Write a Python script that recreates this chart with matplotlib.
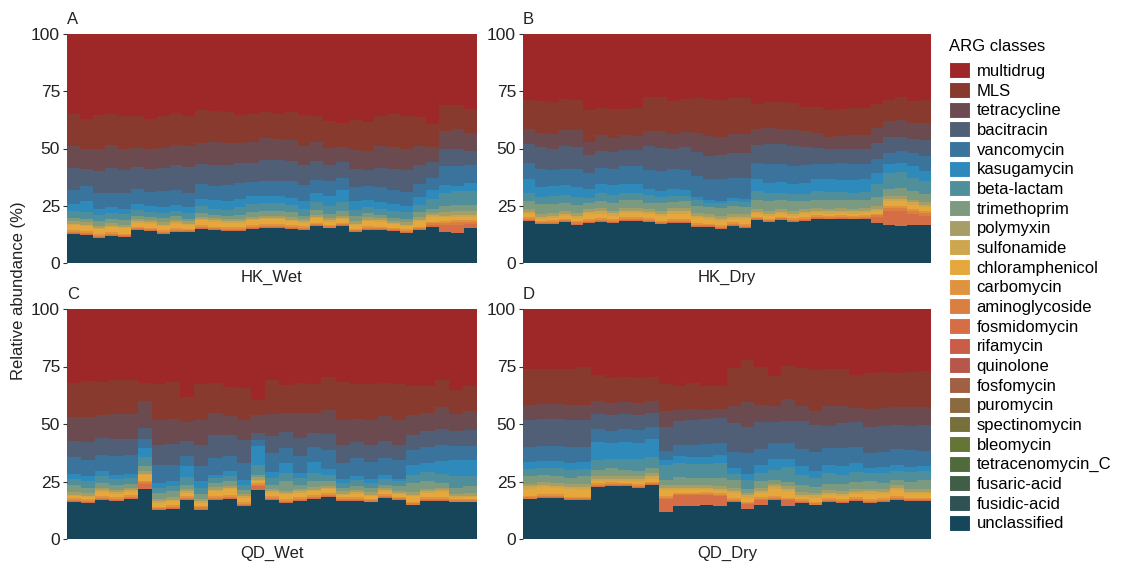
import numpy as np
import matplotlib
matplotlib.use("Agg")
from matplotlib import pyplot as plt
from matplotlib.patches import Patch

plt.rcParams['font.family'] = ['Liberation Sans', 'DejaVu Sans']

panels = ["HK_Wet", "HK_Dry", "QD_Wet", "QD_Dry"]
letters = ["A", "B", "C", "D"]

# legend order (top of stack first)
classes = ["multidrug", "MLS", "tetracycline", "bacitracin", "vancomycin", "kasugamycin",
           "beta-lactam", "trimethoprim", "polymyxin", "sulfonamide", "chloramphenicol",
           "carbomycin", "aminoglycoside", "fosmidomycin", "rifamycin", "quinolone",
           "fosfomycin", "puromycin", "spectinomycin", "bleomycin", "tetracenomycin_C",
           "fusaric-acid", "fusidic-acid", "unclassified"]
colors = ["#9e2727", "#873a2d", "#6b4b50", "#505f76", "#3a739b", "#2e8abb",
          "#4f8f9b", "#7b9a80", "#a59e66", "#cda64e", "#e6a83c",
          "#e0933f", "#da7f3f", "#d56e47", "#c95d48", "#b5574a",
          "#a06044", "#8c6a40", "#76703b", "#647535", "#506b3a",
          "#3f5e45", "#2f5252", "#17455a"]

# relative abundance (%) per sample, one list per panel: HK_Wet, HK_Dry, QD_Wet, QD_Dry
unclassified = [
    [12.8, 12.2, 10.9, 11.8, 11.2, 14.3, 13.8, 12.7, 13.5, 13.4, 14.8, 14.3, 14.0, 14.0, 15.0, 15.3,
     15.3, 14.8, 14.6, 16.0, 15.1, 16.0, 13.4, 14.6, 14.3, 13.8, 13.1, 14.3, 15.7, 13.4, 13.1, 15.1],
    [18.5, 16.9, 17.2, 17.8, 16.8, 17.5, 18.0, 17.5, 18.5, 18.5, 18.0, 16.9, 17.5, 17.5, 15.8, 15.6, 14.9,
     16.1, 15.3, 18.7, 17.8, 18.7, 18.0, 18.5, 19.4, 19.0, 19.4, 19.0, 19.4, 17.5, 16.6, 16.1, 16.6, 16.8],
    [16.2, 15.7, 17.1, 16.7, 17.4, 21.9, 12.5, 13.2, 17.1, 12.8, 17.1, 17.4, 14.5, 21.4, 17.1,
     15.7, 16.7, 17.4, 18.3, 16.7, 16.7, 15.9, 17.8, 16.8, 14.6, 16.7, 16.7, 15.9, 15.9],
    [17.2, 18.0, 17.8, 16.8, 16.8, 22.6, 23.1, 22.9, 22.3, 23.4, 11.7, 14.5, 14.5, 14.9, 14.2,
     16.1, 13.1, 14.9, 17.1, 14.3, 15.6, 14.6, 16.1, 15.8, 16.5, 15.8, 16.1, 17.1, 16.4, 16.4],
]
fosmidomycin = [
    [0.4, 0.4, 0.4, 0.4, 0.4, 0.4, 0.4, 0.4, 0.4, 0.4, 0.4, 0.4, 0.4, 0.4, 0.4, 0.4,
     0.4, 0.4, 0.4, 0.4, 0.4, 0.4, 0.4, 0.4, 0.4, 0.4, 0.4, 0.4, 1.0, 3.0, 3.5, 1.8],
    [0.4, 0.4, 0.4, 0.4, 0.4, 0.4, 0.4, 0.4, 0.4, 0.4, 0.4, 0.4, 0.4, 0.4, 0.4, 0.4, 0.4,
     0.4, 0.4, 0.4, 0.4, 0.4, 0.4, 0.4, 0.4, 0.4, 0.4, 0.4, 0.4, 2.5, 6.0, 6.5, 5.0, 3.8],
    [0.4, 0.4, 0.4, 0.4, 0.4, 2.2, 0.4, 0.4, 0.4, 0.4, 0.4, 0.4, 0.4, 1.7, 0.4,
     0.4, 0.4, 0.4, 0.4, 0.4, 0.4, 0.4, 0.4, 0.4, 0.4, 0.4, 0.4, 0.4, 0.4],
    [0.4, 0.4, 0.4, 0.4, 0.4, 0.4, 0.4, 0.4, 0.4, 0.4, 5.8, 4.5, 4.5, 4.2, 4.5,
     0.4, 2.0, 2.2, 0.4, 2.5, 0.4, 0.4, 0.4, 0.4, 0.4, 0.4, 0.4, 0.4, 0.4, 0.4],
]
aminoglycoside = [
    [0.5, 0.5, 0.5, 0.5, 0.5, 0.5, 0.5, 0.5, 0.5, 0.5, 0.5, 0.5, 0.5, 0.5, 0.5, 0.5,
     0.5, 0.5, 0.5, 0.5, 0.5, 0.5, 0.5, 0.5, 0.5, 0.5, 0.5, 0.5, 0.7, 1.0, 1.2, 0.9],
    [0.5, 0.5, 0.5, 0.5, 0.5, 0.5, 0.5, 0.5, 0.5, 0.5, 0.5, 0.5, 0.5, 0.5, 0.5, 0.5, 0.5,
     0.5, 0.5, 0.5, 0.5, 0.5, 0.5, 0.5, 0.5, 0.5, 0.5, 0.5, 0.5, 0.8, 1.5, 1.5, 1.3, 1.2],
    [0.5, 0.5, 0.5, 0.5, 0.5, 0.5, 0.5, 0.5, 0.5, 0.5, 0.5, 0.5, 0.5, 0.5, 0.5,
     0.5, 0.5, 0.5, 0.5, 0.5, 0.5, 0.5, 0.5, 0.5, 0.5, 0.5, 0.5, 0.5, 0.5],
    [0.5, 0.5, 0.5, 0.5, 0.5, 0.5, 0.5, 0.5, 0.5, 0.5, 0.5, 0.5, 0.5, 0.5, 0.5,
     0.5, 0.5, 0.5, 0.5, 0.5, 0.5, 0.5, 0.5, 0.5, 0.5, 0.5, 0.5, 0.5, 0.5, 0.5],
]
carbomycin = [
    [0.7, 0.7, 0.7, 0.7, 0.7, 0.7, 0.7, 0.7, 0.7, 0.7, 0.7, 0.7, 0.7, 0.7, 0.7, 0.7,
     0.7, 0.7, 0.7, 0.7, 0.7, 0.7, 0.7, 0.7, 0.7, 0.7, 0.7, 0.7, 0.7, 0.8, 0.8, 0.8],
    [0.7, 0.7, 0.7, 0.7, 0.7, 0.7, 0.7, 0.7, 0.7, 0.7, 0.7, 0.7, 0.7, 0.7, 0.7, 0.7, 0.7,
     0.7, 0.7, 0.7, 0.7, 0.7, 0.7, 0.7, 0.7, 0.7, 0.7, 0.7, 0.7, 0.7, 0.7, 0.7, 0.7, 0.7],
    [0.7, 0.7, 0.7, 0.7, 0.7, 0.7, 0.7, 0.7, 0.7, 0.7, 0.7, 0.7, 0.7, 0.7, 0.7,
     0.7, 0.7, 0.7, 0.7, 0.7, 0.7, 0.7, 0.7, 0.7, 0.7, 0.7, 0.7, 0.7, 0.7],
    [0.7, 0.7, 0.7, 0.7, 0.7, 0.7, 0.7, 0.7, 0.7, 0.7, 0.7, 0.7, 0.7, 0.7, 0.7,
     0.7, 0.7, 0.7, 0.7, 0.7, 0.7, 0.7, 0.7, 0.7, 0.7, 0.7, 0.7, 0.7, 0.7, 0.7],
]
chloramphenicol = [
    [2.2, 2.3, 2.2, 2.3, 2.3, 1.7, 1.8, 1.8, 2.1, 1.6, 2.2, 2.1, 2.0, 2.0, 2.0, 2.2,
     2.2, 1.9, 1.4, 1.9, 1.3, 1.5, 1.6, 2.1, 2.1, 1.5, 1.4, 2.4, 2.2, 1.7, 1.7, 1.7],
    [1.1, 0.8, 0.9, 1.0, 1.3, 2.1, 2.0, 1.6, 1.8, 1.8, 1.6, 1.9, 2.5, 2.5, 2.3, 1.8, 1.7,
     1.6, 2.1, 0.9, 1.0, 0.9, 0.8, 1.1, 0.9, 0.9, 0.9, 0.9, 0.9, 1.1, 2.2, 2.2, 1.9, 2.0],
    [0.9, 0.9, 1.9, 1.4, 1.6, 2.5, 1.7, 1.7, 1.4, 1.4, 2.1, 2.6, 1.9, 0.9, 1.4,
     2.1, 1.8, 1.8, 1.7, 0.8, 1.4, 1.2, 1.2, 1.0, 2.5, 1.8, 2.3, 0.5, 0.7],
    [3.1, 3.0, 2.8, 3.2, 3.1, 0.9, 0.6, 0.6, 1.2, 1.3, 2.5, 1.0, 1.0, 0.9, 1.0,
     2.3, 1.7, 1.7, 3.2, 2.9, 1.0, 1.8, 1.3, 1.1, 1.3, 2.3, 1.7, 2.5, 1.4, 1.4],
]
sulfonamide = [
    [0.6, 0.6, 0.6, 0.6, 0.6, 0.6, 0.6, 0.6, 0.6, 0.6, 0.6, 0.6, 0.6, 0.6, 0.6, 0.6,
     0.6, 0.6, 0.6, 0.6, 0.6, 0.6, 0.6, 0.6, 0.6, 0.6, 0.6, 0.6, 0.6, 0.8, 0.8, 0.8],
    [1.0, 1.0, 1.0, 1.0, 1.0, 1.0, 1.0, 1.0, 1.0, 1.0, 1.0, 1.0, 1.0, 1.0, 1.0, 1.0, 1.0,
     1.0, 1.0, 1.0, 1.0, 1.0, 1.0, 1.0, 1.0, 1.0, 1.0, 1.0, 1.0, 1.0, 1.0, 1.0, 1.0, 1.0],
    [0.6, 0.6, 0.6, 0.6, 0.6, 0.6, 0.6, 0.6, 0.6, 0.6, 0.6, 0.6, 0.6, 0.6, 0.6,
     0.6, 0.6, 0.6, 0.6, 0.6, 0.6, 0.6, 0.6, 0.6, 0.6, 0.6, 0.6, 0.6, 0.6],
    [1.0, 1.0, 1.0, 1.0, 1.0, 1.0, 1.0, 1.0, 1.0, 1.0, 1.0, 1.0, 1.0, 1.0, 1.0,
     1.0, 1.0, 1.0, 1.0, 1.0, 1.0, 1.0, 1.0, 1.0, 1.0, 1.0, 1.0, 1.0, 1.0, 1.0],
]
polymyxin = [
    [1.0, 1.0, 1.0, 1.0, 1.0, 1.0, 1.0, 1.0, 1.0, 1.0, 1.0, 1.0, 1.0, 1.0, 1.0, 1.0,
     1.0, 1.0, 1.0, 1.0, 1.0, 1.0, 1.0, 1.0, 1.0, 1.0, 1.0, 1.0, 1.0, 1.5, 1.5, 1.5],
    [1.2, 1.2, 1.2, 1.2, 1.2, 1.2, 1.2, 1.2, 1.2, 1.2, 1.2, 1.2, 1.2, 1.2, 1.2, 1.2, 1.2,
     1.2, 1.2, 1.2, 1.2, 1.2, 1.2, 1.2, 1.2, 1.2, 1.2, 1.2, 1.2, 1.2, 1.2, 1.2, 1.2, 1.2],
    [1.0, 1.0, 1.0, 1.0, 1.0, 1.0, 1.0, 1.0, 1.0, 1.0, 1.0, 1.0, 1.0, 1.0, 1.0,
     1.0, 1.0, 1.0, 1.0, 1.0, 1.0, 1.0, 1.0, 1.0, 1.0, 1.0, 1.0, 1.0, 1.0],
    [1.2, 1.2, 1.2, 1.2, 1.2, 1.2, 1.2, 1.2, 1.2, 1.2, 1.2, 1.2, 1.2, 1.2, 1.2,
     1.2, 1.2, 1.2, 1.2, 1.2, 1.2, 1.2, 1.2, 1.2, 1.2, 1.2, 1.2, 1.2, 1.2, 1.2],
]
trimethoprim = [
    [1.5, 1.5, 1.9, 2.1, 1.9, 1.5, 1.1, 2.0, 1.6, 1.2, 1.6, 1.5, 1.5, 1.9, 1.9, 1.9,
     2.2, 2.2, 1.2, 2.2, 1.9, 1.9, 2.2, 1.9, 1.5, 1.2, 1.5, 2.2, 1.9, 2.5, 2.9, 2.9],
    [3.6, 4.3, 3.9, 3.7, 3.6, 2.6, 3.2, 3.4, 3.3, 3.3, 2.9, 3.4, 2.8, 3.2, 2.9, 3.3, 3.7,
     3.3, 3.3, 4.3, 4.4, 4.0, 4.4, 3.6, 3.6, 3.7, 3.6, 3.6, 3.6, 4.0, 3.2, 3.6, 3.7, 3.5],
    [3.3, 2.4, 2.1, 2.3, 1.9, 2.2, 2.6, 2.6, 1.9, 2.3, 1.9, 1.9, 1.8, 1.2, 1.9,
     4.1, 1.9, 2.7, 1.9, 1.5, 1.6, 1.9, 1.4, 1.9, 4.0, 3.4, 2.1, 2.6, 3.1],
    [3.2, 2.9, 3.0, 2.9, 3.7, 2.9, 3.2, 2.9, 2.3, 2.2, 2.1, 3.6, 3.3, 3.3, 3.6,
     3.3, 1.7, 3.1, 1.7, 1.7, 3.0, 2.4, 2.9, 3.1, 3.2, 3.2, 2.8, 2.1, 3.2, 3.9],
]
beta_lactam = [
    [2.9, 2.9, 2.9, 2.4, 2.7, 2.3, 2.5, 2.1, 2.2, 2.4, 3.2, 2.5, 2.6, 3.4, 3.8, 3.6,
     3.3, 3.4, 3.2, 3.2, 3.5, 3.9, 2.9, 2.7, 2.5, 2.9, 2.9, 3.4, 4.3, 5.9, 5.8, 5.8],
    [3.7, 3.1, 3.4, 3.2, 3.3, 2.5, 3.7, 3.3, 3.3, 3.3, 3.2, 2.8, 2.6, 2.2, 2.6, 1.8, 1.9,
     2.2, 2.2, 3.7, 3.4, 3.3, 3.2, 3.2, 3.7, 3.5, 3.2, 3.4, 3.2, 5.5, 7.0, 6.9, 5.8, 5.6],
    [2.5, 2.9, 2.9, 2.5, 2.4, 4.1, 2.2, 2.2, 3.4, 2.5, 2.2, 2.4, 2.2, 4.3, 2.9,
     3.6, 2.9, 3.6, 2.8, 2.1, 2.9, 2.1, 2.5, 2.2, 3.6, 3.9, 4.1, 5.0, 4.6],
    [3.1, 3.2, 3.3, 3.2, 3.0, 4.1, 4.0, 4.4, 5.0, 4.8, 6.6, 6.1, 6.1, 6.1, 6.4,
     2.7, 3.6, 3.2, 4.4, 6.6, 4.3, 4.1, 4.4, 3.9, 4.4, 3.4, 4.1, 4.1, 4.4, 4.1],
]
kasugamycin = [
    [3.2, 4.8, 2.6, 2.7, 2.4, 2.9, 2.3, 2.7, 2.7, 2.7, 2.9, 4.1, 3.6, 3.4, 3.2, 2.9,
     2.9, 2.9, 3.3, 4.1, 4.1, 5.2, 3.6, 3.2, 2.9, 3.2, 2.6, 3.3, 3.8, 3.6, 2.5, 3.6],
    [6.1, 4.4, 4.4, 4.4, 4.3, 3.6, 3.6, 4.3, 4.0, 3.9, 2.6, 2.6, 2.9, 2.6, 1.4, 1.4, 1.0,
     1.5, 1.3, 5.1, 4.6, 4.6, 4.4, 4.8, 5.4, 5.6, 5.3, 5.5, 5.6, 5.1, 3.7, 4.1, 5.1, 4.3],
    [2.3, 2.1, 2.2, 1.9, 1.9, 3.9, 2.1, 2.2, 4.9, 2.9, 1.5, 1.9, 2.2, 8.0, 2.5,
     4.3, 2.2, 4.6, 2.5, 1.8, 1.7, 1.8, 1.9, 1.0, 4.4, 4.0, 5.4, 7.3, 6.7],
    [3.2, 3.1, 3.2, 3.2, 3.2, 8.0, 7.2, 7.7, 7.3, 7.9, 2.2, 3.0, 3.0, 3.0, 3.4,
     2.5, 2.7, 3.6, 4.8, 3.6, 4.0, 2.9, 3.6, 4.0, 3.9, 2.2, 2.6, 2.5, 2.2, 2.1],
]
vancomycin = [
    [6.2, 6.6, 6.7, 6.1, 6.9, 6.4, 6.3, 6.8, 6.7, 6.1, 6.7, 6.1, 7.3, 7.0, 6.1, 6.9,
     6.9, 7.3, 7.3, 5.8, 6.6, 5.4, 6.3, 6.1, 6.7, 5.9, 6.3, 5.8, 5.4, 8.0, 8.7, 8.0],
    [7.0, 7.6, 7.0, 7.3, 7.8, 7.0, 7.3, 7.3, 7.6, 7.7, 8.5, 8.7, 8.8, 8.8, 9.2, 9.1, 9.8,
     8.7, 9.2, 7.0, 8.1, 7.8, 7.7, 7.6, 6.3, 6.6, 7.3, 6.9, 6.6, 6.1, 5.1, 5.1, 5.6, 6.6],
    [7.1, 7.3, 7.3, 7.9, 8.0, 3.9, 8.0, 7.2, 4.3, 6.8, 7.2, 6.8, 7.2, 2.9, 8.4,
     6.6, 7.5, 6.7, 8.4, 6.9, 7.7, 7.2, 7.2, 8.1, 6.3, 7.0, 7.2, 6.1, 6.4],
    [6.5, 6.6, 6.7, 6.8, 6.3, 5.4, 5.1, 5.4, 5.5, 5.2, 4.1, 4.8, 5.1, 5.4, 5.1,
     7.3, 9.3, 6.9, 6.6, 6.9, 7.3, 8.4, 7.3, 7.7, 7.0, 6.5, 6.6, 6.9, 7.3, 6.7],
]
bacitracin = [
    [9.5, 7.5, 9.8, 10.9, 10.2, 9.6, 10.2, 10.2, 10.9, 11.3, 8.8, 9.1, 8.7, 8.8, 8.5, 9.1,
     8.8, 8.7, 8.4, 8.0, 7.2, 6.9, 7.8, 7.0, 8.1, 9.3, 9.5, 8.0, 6.9, 7.7, 7.5, 5.9],
    [8.2, 9.6, 9.3, 9.7, 9.9, 7.9, 7.5, 7.3, 6.9, 6.9, 10.5, 10.3, 9.0, 10.1, 10.5, 9.9, 10.2,
     10.7, 11.0, 8.0, 8.7, 8.7, 8.8, 8.1, 7.3, 6.5, 6.1, 6.8, 6.8, 7.1, 6.8, 6.3, 6.1, 7.0],
    [7.0, 7.7, 7.2, 7.6, 7.1, 4.8, 8.7, 9.1, 6.3, 9.1, 10.2, 9.2, 9.9, 2.9, 7.2,
     6.8, 7.7, 6.1, 7.0, 8.0, 6.8, 7.7, 7.3, 6.8, 6.8, 6.8, 6.8, 6.2, 6.6],
    [11.7, 11.5, 11.5, 11.9, 11.9, 6.8, 6.9, 6.8, 6.7, 6.4, 10.2, 10.5, 10.9, 10.9, 11.0,
     12.4, 11.4, 11.8, 9.2, 9.3, 12.2, 11.6, 9.8, 11.0, 10.7, 11.7, 11.6, 10.6, 10.5, 11.2],
]
tetracycline = [
    [9.8, 8.6, 9.7, 10.2, 9.1, 8.5, 8.8, 8.8, 8.7, 9.0, 9.1, 9.9, 9.3, 8.8, 9.3, 9.5,
     9.4, 9.5, 8.7, 8.6, 7.5, 6.7, 8.3, 7.9, 9.7, 9.7, 9.4, 8.7, 6.7, 7.8, 8.6, 8.0],
    [6.4, 6.4, 6.3, 7.1, 7.2, 5.8, 6.8, 6.2, 6.6, 6.3, 6.7, 7.4, 6.6, 6.5, 8.4, 8.8, 8.2,
     8.3, 8.0, 6.9, 7.2, 6.9, 6.9, 6.8, 6.2, 5.6, 5.9, 6.2, 5.9, 6.5, 6.9, 7.1, 7.0, 7.6],
    [10.4, 10.7, 9.9, 10.7, 10.7, 11.8, 10.9, 10.9, 8.2, 10.9, 9.4, 8.2, 9.0, 7.7, 9.9,
     8.4, 10.9, 8.7, 10.4, 10.9, 10.2, 10.9, 10.8, 10.9, 8.7, 8.0, 9.6, 7.7, 8.3],
    [6.6, 6.7, 6.6, 6.3, 6.6, 5.6, 5.2, 5.2, 5.0, 4.9, 6.9, 4.8, 4.7, 4.1, 3.9,
     7.3, 10.7, 7.4, 7.2, 9.8, 6.8, 6.2, 8.5, 7.6, 6.1, 7.6, 7.6, 7.8, 8.2, 7.8],
]
MLS = [
    [13.9, 13.4, 14.9, 13.5, 14.4, 13.9, 13.0, 13.8, 13.9, 13.4, 14.5, 13.7, 13.9, 12.3, 11.9, 11.5,
     11.0, 11.9, 13.2, 11.3, 11.8, 10.3, 13.3, 12.9, 13.1, 14.4, 14.4, 12.6, 10.0, 11.3, 10.5, 10.6],
    [12.7, 13.9, 14.2, 13.5, 13.2, 13.9, 11.7, 12.7, 11.6, 12.4, 14.9, 14.5, 14.3, 14.3, 15.2, 16.0, 16.0,
     15.9, 15.9, 10.9, 11.4, 11.4, 11.8, 10.8, 11.7, 11.5, 11.7, 11.6, 11.9, 10.2, 9.3, 10.0, 9.8, 9.8],
    [14.9, 15.9, 14.6, 15.1, 14.8, 7.7, 15.5, 16.1, 11.0, 15.6, 13.0, 12.3, 13.6, 6.5, 14.5,
     12.3, 13.0, 12.6, 14.2, 16.2, 15.2, 15.5, 14.5, 15.6, 12.3, 11.9, 11.6, 10.4, 11.2],
    [15.3, 15.2, 15.3, 15.6, 16.2, 11.0, 11.0, 10.8, 10.7, 10.5, 11.9, 10.2, 11.4, 10.2, 10.2,
     16.8, 18.1, 16.5, 12.8, 14.3, 16.5, 17.5, 16.0, 16.0, 14.6, 15.8, 15.8, 14.9, 15.3, 15.6],
]
multidrug = [
    [34.8, 37.0, 35.2, 34.8, 35.7, 35.7, 37.0, 35.9, 34.5, 35.7, 33.0, 33.5, 33.9, 35.2, 35.1, 33.9,
     34.8, 34.2, 35.5, 35.7, 37.8, 39.0, 37.4, 38.4, 35.9, 34.9, 35.7, 36.1, 39.3, 31.0, 30.9, 32.6],
    [28.9, 29.2, 29.6, 28.5, 28.8, 33.3, 32.4, 32.6, 32.6, 32.1, 27.3, 27.7, 29.2, 28.5, 27.9, 28.5, 28.8,
     27.9, 27.9, 30.7, 29.6, 29.9, 30.2, 31.7, 31.7, 33.3, 32.8, 32.3, 32.3, 30.7, 28.8, 27.7, 29.2, 28.9],
    [32.2, 31.2, 31.6, 30.7, 31.0, 32.2, 32.6, 31.6, 38.3, 32.5, 32.2, 34.1, 34.5, 39.7, 31.0,
     32.9, 32.2, 32.6, 29.6, 31.9, 32.6, 32.6, 32.2, 32.5, 33.6, 33.3, 31.0, 35.1, 33.3],
    [26.3, 26.0, 26.0, 26.3, 25.4, 28.9, 29.9, 29.5, 30.2, 29.6, 32.6, 33.6, 32.1, 33.6, 33.3,
     25.5, 22.3, 25.3, 29.2, 24.7, 25.5, 26.7, 26.3, 26.0, 28.5, 27.7, 27.3, 27.7, 27.3, 27.0],
]

# stacking order, bottom -> top
stack = [
    ("unclassified", unclassified),
    ("fosmidomycin", fosmidomycin),
    ("aminoglycoside", aminoglycoside),
    ("carbomycin", carbomycin),
    ("chloramphenicol", chloramphenicol),
    ("sulfonamide", sulfonamide),
    ("polymyxin", polymyxin),
    ("trimethoprim", trimethoprim),
    ("beta-lactam", beta_lactam),
    ("kasugamycin", kasugamycin),
    ("vancomycin", vancomycin),
    ("bacitracin", bacitracin),
    ("tetracycline", tetracycline),
    ("MLS", MLS),
    ("multidrug", multidrug),
]
cor = dict(zip(classes, colors))

fig = plt.figure(figsize=(11.26, 5.69), dpi=100)
W, H = 1126, 569
caixas = [(67, 34, 477, 263), (523, 34, 931, 263), (67, 309, 477, 539), (523, 309, 931, 539)]

for i, nome in enumerate(panels):
    x0, y0, x1, y1 = caixas[i]
    ax = fig.add_axes([x0 / W, 1 - y1 / H, (x1 - x0) / W, (y1 - y0) / H])
    n = len(unclassified[i])
    x = np.arange(n)
    total = np.zeros(n)
    for _, dados in stack:
        total += np.array(dados[i])
    base = np.zeros(n)
    for classe, dados in stack:
        v = np.array(dados[i]) / total * 100
        ax.bar(x, v, bottom=base, width=1.0, color=cor[classe], linewidth=0)
        base += v
    ax.set_xlim(-0.5, n - 0.5)
    ax.set_ylim(0, 100)
    ax.set_yticks([0, 25, 50, 75, 100])
    ax.set_xticks([])
    ax.tick_params(axis="y", labelsize=12.5, length=3, width=0.8, color="#333333",
                   labelcolor="#222222", pad=2)
    for s in ax.spines.values():
        s.set_visible(False)
    ax.set_xlabel(nome, fontsize=12, color="#222222", labelpad=5)
    ax.text(0, 1.03, letters[i], transform=ax.transAxes, fontsize=12,
            color="#222222", va="bottom", ha="left")

fig.text(0.016, 0.49, "Relative abundance (%)", rotation=90, fontsize=12,
         color="#222222", va="center", ha="center")

handles = [Patch(facecolor=c, edgecolor="white", linewidth=0.8) for c in colors]
leg = fig.legend(handles, classes, loc="upper left", bbox_to_anchor=(949 / W, 1 - 39 / H),
                 frameon=False, fontsize=12, title="ARG classes", title_fontsize=12,
                 handlelength=1.25, handleheight=1.1, handletextpad=0.4, labelspacing=0.18,
                 borderaxespad=0, borderpad=0)
leg._legend_box.align = "left"
leg._legend_box.sep = 6

fig.savefig("out.png", dpi=100)
